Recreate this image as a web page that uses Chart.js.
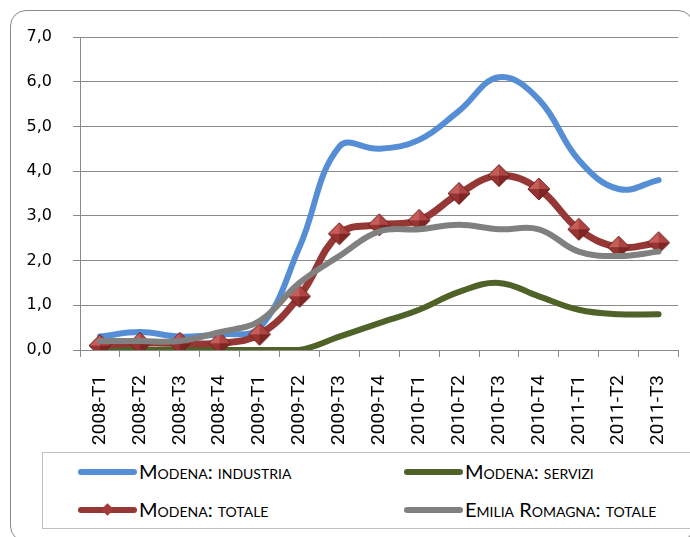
<!DOCTYPE html>
<html>
<head>
<meta charset="utf-8">
<script src="https://cdn.jsdelivr.net/npm/chart.js@4"></script>
<style>
  html, body { margin: 0; padding: 0; background: #fff; }
  #wrap { position: relative; width: 690px; height: 537px; overflow: hidden; }
  #frame {
    position: absolute; left: 10px; top: 10px; width: 684px; height: 532px;
    border: 1.5px solid #8a8a8a; border-radius: 16px; box-sizing: border-box;
  }
  #chartBox { position: absolute; left: 0; top: 0; width: 700px; height: 450px; }
  #legend {
    position: absolute; left: 42px; top: 452px; width: 680px; height: 77px;
    border: 1.5px solid #c0c0c0; box-sizing: border-box;
    font-family: Lato, "Open Sans", sans-serif; font-size: 20px; font-variant: small-caps;
    color: #000;
  }
  .item { position: absolute; height: 24px; line-height: 24px; white-space: nowrap; }
  .swatch { position: absolute; left: 0; top: 9px; width: 59px; height: 6px; border-radius: 3px; }
  .item span.txt { position: absolute; left: 61px; top: -1px; }
  .dia { position: absolute; left: 25px; top: 7px; width: 9px; height: 9px; transform: rotate(45deg); background: #a33c39; }
</style>
</head>
<body>
<div id="wrap">
  <div id="frame"></div>
  <div id="chartBox"><canvas id="chart" width="700" height="450"></canvas></div>
  <div id="legend"></div>
</div>
<script>
// quarters on the x axis
const categories = ['2008-T1', '2008-T2', '2008-T3', '2008-T4', '2009-T1', '2009-T2', '2009-T3', '2009-T4',
    '2010-T1', '2010-T2', '2010-T3', '2010-T4', '2011-T1', '2011-T2', '2011-T3'];

// values
const modenaIndustria = [0.3, 0.4, 0.3, 0.35, 0.5, 2.3, 4.55, 4.5, 4.7, 5.35, 6.1, 5.6, 4.25, 3.6, 3.8];
const modenaServizi   = [0.0, 0.0, 0.0, 0.0, 0.0, 0.0, 0.3, 0.6, 0.9, 1.3, 1.5, 1.2, 0.9, 0.8, 0.8];
const modenaTotale    = [0.1, 0.15, 0.15, 0.15, 0.35, 1.2, 2.6, 2.8, 2.9, 3.5, 3.9, 3.6, 2.7, 2.3, 2.4];
const emiliaTotale    = [0.2, 0.2, 0.2, 0.4, 0.65, 1.5, 2.1, 2.65, 2.7, 2.8, 2.7, 2.7, 2.2, 2.1, 2.2];

const yTicks = [0, 1, 2, 3, 4, 5, 6, 7];

const seriesNames = ['Modena: industria', 'Modena: servizi', 'Modena: totale', 'Emilia Romagna: totale'];
const seriesColors = ['#558ed5', '#4f6228', '#953735', '#808080'];

// shaded diamond marker, drawn once
function makeDiamond(size) {
    const c = document.createElement('canvas');
    c.width = size; c.height = size;
    const g = c.getContext('2d');
    const m = size / 2, e = 1;
    const top = [m, e], right = [size - e, m], bottom = [m, size - e], left = [e, m], mid = [m, m];
    const facet = (a, b, col) => {
        g.beginPath(); g.moveTo(mid[0], mid[1]); g.lineTo(a[0], a[1]); g.lineTo(b[0], b[1]); g.closePath();
        g.fillStyle = col; g.fill();
    };
    facet(left, top, '#c55d59');
    facet(top, right, '#ad4643');
    facet(right, bottom, '#7e2624');
    facet(bottom, left, '#963431');
    g.beginPath(); g.moveTo(top[0], top[1]); g.lineTo(right[0], right[1]); g.lineTo(bottom[0], bottom[1]); g.lineTo(left[0], left[1]); g.closePath();
    g.strokeStyle = '#6e1f1d'; g.lineWidth = 1; g.stroke();
    return c;
}
const diamond = makeDiamond(24);

const gridColor = '#8a8a8a';

const chart = new Chart(document.getElementById('chart'), {
    type: 'line',
    data: {
        labels: categories,
        datasets: [{
            label: seriesNames[0],
            data: modenaIndustria,
            borderColor: seriesColors[0],
            borderWidth: 6,
            pointRadius: 0,
            tension: 0.4,
            order: 3
        }, {
            label: seriesNames[1],
            data: modenaServizi,
            borderColor: seriesColors[1],
            borderWidth: 6,
            pointRadius: 0,
            tension: 0.4,
            order: 2
        }, {
            label: seriesNames[2],
            data: modenaTotale,
            borderColor: seriesColors[2],
            borderWidth: 7,
            pointStyle: diamond,
            pointRadius: 12,
            tension: 0.4,
            order: 1
        }, {
            label: seriesNames[3],
            data: emiliaTotale,
            borderColor: seriesColors[3],
            borderWidth: 6,
            pointRadius: 0,
            tension: 0.4,
            order: 0
        }]
    },
    options: {
        responsive: false,
        animation: false,
        layout: { padding: { top: 37, right: 2, left: 0, bottom: 0 } },
        elements: { line: { borderCapStyle: 'round', borderJoinStyle: 'round' } },
        plugins: {
            legend: { display: false },
            tooltip: { enabled: false }
        },
        scales: {
            y: {
                min: 0,
                max: 7,
                afterBuildTicks: function(scale) {
                    scale.ticks = yTicks.map(v => ({ value: v }));
                },
                afterFit: function(scale) { scale.width = 80; },
                grid: { color: gridColor, lineWidth: 1, tickLength: 7 },
                border: { color: gridColor, width: 1 },
                ticks: {
                    padding: 21,
                    color: '#000',
                    font: { family: 'DejaVu Sans', size: 16 },
                    callback: v => v.toFixed(1).replace('.', ',')
                }
            },
            x: {
                offset: true,
                afterFit: function(scale) { scale.height = 100; },
                grid: { offset: true, drawOnChartArea: false, color: gridColor, tickLength: 7 },
                border: { color: gridColor, width: 1 },
                ticks: {
                    minRotation: 90,
                    maxRotation: 90,
                    padding: 18,
                    color: '#000',
                    font: { family: 'Roboto', size: 19 }
                }
            }
        }
    }
});

// legend with small caps, as in the spreadsheet
const legendPos = [[35, 7], [361, 7], [35, 45], [361, 45]];
const legendBox = document.getElementById('legend');
seriesNames.forEach((name, i) => {
    const item = document.createElement('div');
    item.className = 'item';
    item.style.left = legendPos[i][0] + 'px';
    item.style.top = legendPos[i][1] + 'px';
    const sw = document.createElement('div');
    sw.className = 'swatch';
    sw.style.background = seriesColors[i];
    item.appendChild(sw);
    if (i === 2) {
        const d = document.createElement('div');
        d.className = 'dia';
        item.appendChild(d);
    }
    const t = document.createElement('span');
    t.className = 'txt';
    t.textContent = name;
    item.appendChild(t);
    legendBox.appendChild(item);
});
</script>
</body>
</html>
